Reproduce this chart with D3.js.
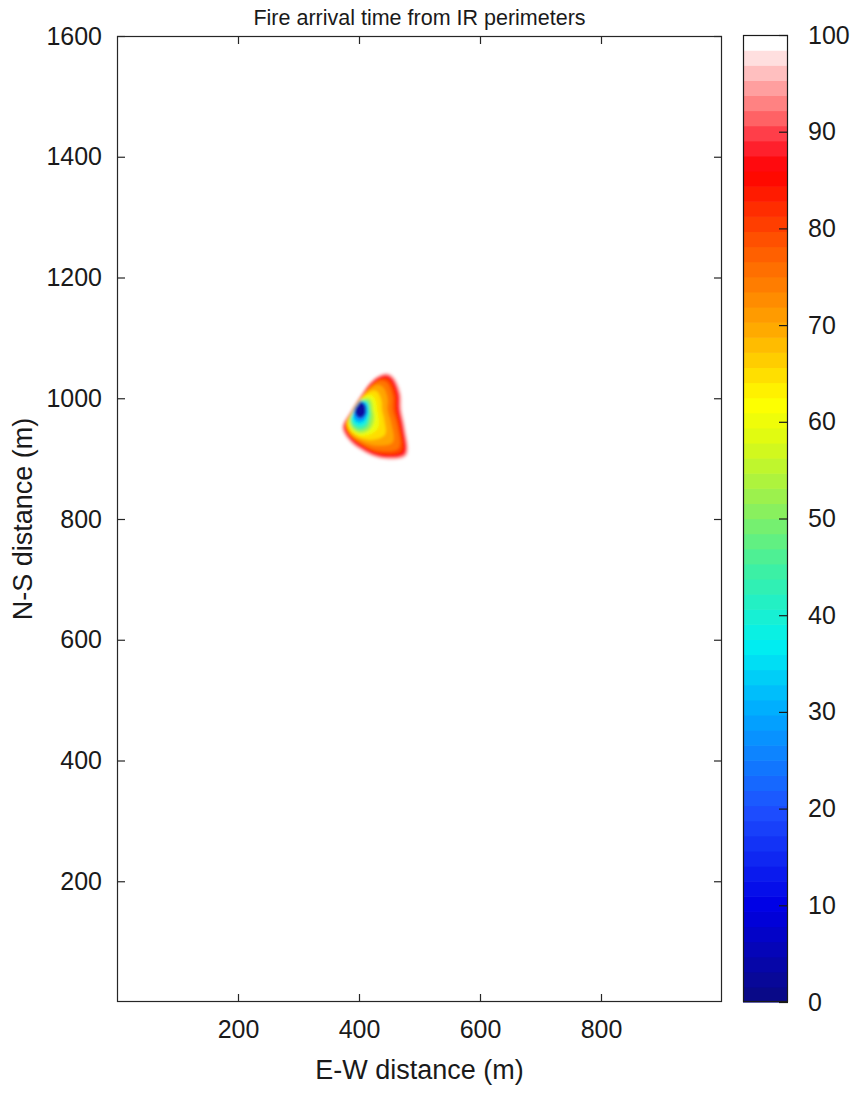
<!DOCTYPE html>
<html><head><meta charset="utf-8">
<script src="https://cdn.jsdelivr.net/npm/d3@7"></script>
<style>body{margin:0;background:#fff;} svg{display:block;font-family:"Liberation Sans",Arial,Helvetica,sans-serif;}</style>
</head><body>
<svg id="chart" width="851" height="1093"></svg>
<script>
// ---------- data ----------
const title = "Fire arrival time from IR perimeters";
const xLabel = "E-W distance (m)";
const yLabel = "N-S distance (m)";
const xDomain = [0, 1000];
const yDomain = [0, 1600];
const xTicks = [200, 400, 600, 800];
const yTicks = [200, 400, 600, 800, 1000, 1200, 1400, 1600];
const cbTicks = [0, 10, 20, 30, 40, 50, 60, 70, 80, 90, 100];
const cbDomain = [0, 100];
const cbLevels = 64;
// colormap anchor values and colours
const cmapStops  = [0, 10, 20, 30, 37, 45, 52, 58, 62, 70, 78, 86, 89, 92, 95, 97.5, 99.2, 100];
const cmapColors = ["#0a0a80", "#0000e6", "#1e50ff", "#00aaff", "#00f0f0", "#40f0a0", "#98f050",
                    "#dcfa14", "#ffff00", "#ffa500", "#ff5a00", "#ff0000", "#ff2a3a", "#ff7070",
                    "#ffa8a8", "#ffdcdc", "#ffffff", "#ffffff"];
// ignition point (m) and fire perimeters: arrival time + radius (m) at each bearing
const ignition = [402, 981];
const bearings = [0, 22.5, 35, 45, 67.5, 90, 112.5, 135, 157.5, 180, 202.5, 225, 247.5, 270, 292.5, 315, 337.5];
const perimeterTimes = [99, 95, 90, 85, 80, 75, 70, 65, 60, 53, 46, 38, 30, 20, 3];
const perimeterRadii = [
  [23, 55, 76, 80, 75, 71, 83, 111, 90, 69, 55, 44, 21, 14.5, 12.6, 12.8, 15.4],
  [22, 53, 73.5, 77.5, 72.5, 68.5, 80.5, 108, 87.5, 66.5, 53, 42, 20, 13.8, 12, 12.2, 14.6],
  [21, 50.5, 71, 75, 70, 66, 78, 105, 85, 64, 51, 40, 19, 13.3, 11.6, 11.8, 14],
  [20.5, 48.5, 68.5, 72.5, 67.5, 63.5, 75.5, 102, 82.5, 61.5, 49, 38.5, 18.3, 12.9, 11.3, 11.4, 13.6],
  [20, 46, 65, 69, 64, 60, 72, 97, 79, 58.5, 47, 36.5, 17.6, 12.5, 11, 11.1, 13.2],
  [19, 41, 59, 63, 58, 54, 66, 90, 73, 55, 45, 34.5, 17, 12.2, 10.7, 10.8, 12.8],
  [18, 35, 50, 53, 49, 45, 55, 76, 64, 51, 42.5, 32.5, 16.3, 11.9, 10.5, 10.5, 12.4],
  [17, 29, 39, 41, 38, 36, 43, 58, 54, 47, 40, 30.5, 15.6, 11.6, 10.3, 10.3, 12],
  [16, 24, 30, 31, 29, 28, 33, 42, 44, 43, 37, 28, 15, 11.3, 10.1, 10.1, 11.7],
  [15.5, 20, 23, 24, 22, 21, 25, 31, 37, 39, 34, 25.5, 14.3, 11, 9.9, 9.9, 11.4],
  [15, 17, 18.5, 19, 17, 16.5, 19, 23, 31, 34, 30.5, 23, 13.5, 10.6, 9.6, 9.6, 11],
  [14.5, 15, 16, 16, 14.5, 13.5, 15.5, 18, 25, 28, 26, 20, 12.7, 10.2, 9.3, 9.3, 10.6],
  [14, 14, 14, 13.5, 12.5, 12, 13, 14.5, 19, 21, 20, 16, 11.8, 9.8, 9, 9, 10.2],
  [13.8, 13, 12.5, 12, 11, 10, 11.5, 12.5, 14, 15, 14, 12, 10.8, 9.3, 8.6, 8.6, 9.8],
  [13.3, 12, 11, 10.3, 9.5, 8.8, 9.6, 11, 12.5, 13.5, 12, 10.5, 9.3, 8.4, 8, 8, 9.2]
];

// ---------- layout ----------
const svg = d3.select("#chart");
const P = {left: 117, right: 722, top: 36, bottom: 1002};
const CB = {left: 743, right: 788, top: 35, bottom: 1002};
const x = d3.scaleLinear().domain(xDomain).range([P.left, P.right]);
const y = d3.scaleLinear().domain(yDomain).range([P.bottom, P.top]);
const cmap = d3.scaleLinear().domain(cmapStops).range(cmapColors).interpolate(d3.interpolateRgb).clamp(true);
const axisColor = "#262626";
const textColor = "#1a1a1a";
const fontFam = "'Liberation Sans',Arial,Helvetica,sans-serif";
const tickLen = 8;

const defs = svg.append("defs");
defs.append("clipPath").attr("id", "clip").append("rect")
  .attr("x", P.left).attr("y", P.top).attr("width", P.right - P.left).attr("height", P.bottom - P.top);
defs.append("filter").attr("id", "blur").attr("x", "-20%").attr("y", "-20%").attr("width", "140%").attr("height", "140%")
  .append("feGaussianBlur").attr("stdDeviation", 1.5);

// fire arrival field
const toRad = Math.PI / 180;
const line = d3.line()
  .x((r, j) => x(ignition[0] + r * Math.sin(bearings[j] * toRad)))
  .y((r, j) => y(ignition[1] + r * Math.cos(bearings[j] * toRad)))
  .curve(d3.curveCatmullRomClosed.alpha(0.5));
svg.append("g").attr("clip-path", "url(#clip)").append("g").attr("filter", "url(#blur)")
  .selectAll("path").data(perimeterRadii).join("path")
  .attr("d", d => line(d))
  .attr("fill", (d, i) => cmap(perimeterTimes[i]))
  .attr("stroke", "none");

// axes box
svg.append("rect").attr("x", P.left + 0.5).attr("y", P.top + 0.5)
  .attr("width", P.right - P.left - 1).attr("height", P.bottom - P.top - 1)
  .attr("fill", "none").attr("stroke", axisColor).attr("stroke-width", 1.2);

const fmt = d3.format("d");
const gx = svg.append("g").attr("transform", `translate(0,${P.bottom})`)
  .call(d3.axisBottom(x).tickValues(xTicks).tickFormat(fmt).tickSizeInner(-tickLen).tickSizeOuter(0).tickPadding(18));
const gxt = svg.append("g").attr("transform", `translate(0,${P.top})`)
  .call(d3.axisTop(x).tickValues(xTicks).tickSizeInner(-tickLen).tickSizeOuter(0).tickFormat(""));
const gy = svg.append("g").attr("transform", `translate(${P.left},0)`)
  .call(d3.axisLeft(y).tickValues(yTicks).tickFormat(fmt).tickSizeInner(-tickLen).tickSizeOuter(0).tickPadding(15));
const gyr = svg.append("g").attr("transform", `translate(${P.right},0)`)
  .call(d3.axisRight(y).tickValues(yTicks).tickSizeInner(-tickLen).tickSizeOuter(0).tickFormat(""));
[gx, gxt, gy, gyr].forEach(g => {
  g.select(".domain").remove();
  g.selectAll(".tick line").attr("stroke", axisColor).attr("stroke-width", 1.2);
  g.selectAll(".tick text").attr("fill", textColor).attr("font-size", 25).attr("font-family", fontFam);
});

// title & labels
svg.append("text").attr("x", (P.left + P.right) / 2).attr("y", 25).attr("text-anchor", "middle")
  .attr("font-size", 21.5).attr("fill", textColor).text(title);
svg.append("text").attr("x", (P.left + P.right) / 2).attr("y", 1079).attr("text-anchor", "middle")
  .attr("font-size", 27).attr("fill", textColor).text(xLabel);
svg.append("text").attr("transform", `translate(32,${(P.top + P.bottom) / 2}) rotate(-90)`).attr("text-anchor", "middle")
  .attr("font-size", 27).attr("fill", textColor).text(yLabel);

// colour bar
const cbY = d3.scaleLinear().domain(cbDomain).range([CB.bottom, CB.top]);
const bands = d3.range(cbLevels);
const step = (cbDomain[1] - cbDomain[0]) / cbLevels;
svg.append("g").selectAll("rect").data(bands).join("rect")
  .attr("x", CB.left).attr("width", CB.right - CB.left)
  .attr("y", i => cbY(cbDomain[0] + (i + 1) * step))
  .attr("height", i => cbY(cbDomain[0] + i * step) - cbY(cbDomain[0] + (i + 1) * step) + 0.6)
  .attr("fill", i => cmap(cbDomain[0] + (i + 0.5) * step));
const gcb = svg.append("g").attr("transform", `translate(${CB.right},0)`)
  .call(d3.axisRight(cbY).tickValues(cbTicks).tickFormat(fmt).tickSizeInner(-9).tickSizeOuter(0).tickPadding(20));
gcb.select(".domain").remove();
gcb.selectAll(".tick line").attr("stroke", textColor).attr("stroke-width", 1.2);
gcb.selectAll(".tick text").attr("fill", textColor).attr("font-size", 25).attr("font-family", fontFam);
svg.append("rect").attr("x", CB.left + 0.5).attr("y", CB.top + 0.5)
  .attr("width", CB.right - CB.left - 1).attr("height", CB.bottom - CB.top - 1)
  .attr("fill", "none").attr("stroke", textColor).attr("stroke-width", 1.2);
</script>
</body></html>
